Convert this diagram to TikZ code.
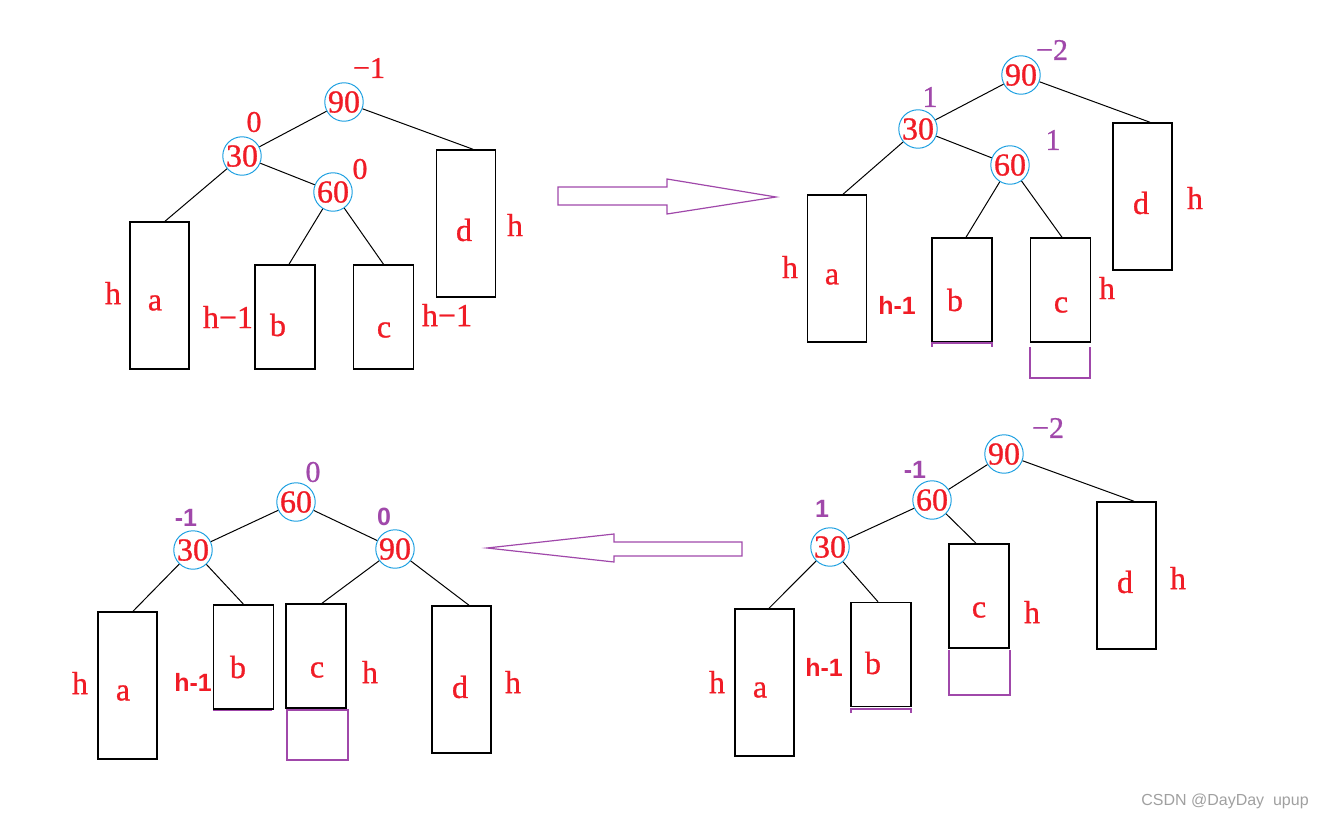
\documentclass[tikz,border=0pt]{standalone}
\usepackage{fontspec}
\setmainfont{Liberation Serif}
\setsansfont{Liberation Sans}
\newfontfamily\rserif{Liberation Serif}[FakeBold=0.9]
\definecolor{tred}{RGB}{240,28,38}
\definecolor{tpur}{RGB}{160,72,170}
\definecolor{cblue}{RGB}{30,160,225}
\definecolor{wgray}{RGB}{160,160,160}
\begin{document}
\begin{tikzpicture}[x=0.5pt,y=-0.5pt,
  num/.style={circle,draw=cblue,line width=0.5pt,minimum size=18.5pt,inner sep=0pt,text=tred,font=\rserif\fontsize{16}{16}\selectfont},
  lbl/.style={inner sep=0pt,text=tred,font=\rserif\fontsize{16}{16}\selectfont},
  rbal/.style={inner sep=0pt,text=tred,font=\rserif\fontsize{15}{15}\selectfont},
  bal/.style={inner sep=0pt,text=tpur,font=\rserif\fontsize{15}{15}\selectfont},
  bals/.style={inner sep=0pt,text=tpur,font=\sffamily\bfseries\fontsize{12.5}{12.5}\selectfont},
  hs/.style={inner sep=0pt,text=tred,font=\sffamily\bfseries\fontsize{12.5}{12.5}\selectfont},
  tall/.style={draw,line width=0.75pt,minimum width=29.5pt,minimum height=73.5pt,inner sep=0pt},
  short/.style={draw,line width=0.75pt,minimum width=30pt,minimum height=52pt,inner sep=0pt},
  edge/.style={line width=0.5pt},
  pur/.style={draw=tpur,line width=0.6pt},
  bigarrow/.style={draw=tpur,line width=0.6pt,line join=miter}
]
\useasboundingbox (0,0) rectangle (1328,819);

%% ---------------- Panel 1 (top left) ----------------
\node[num] (n90a) at (344,102) {90};
\node[num] (n30a) at (242,156) {30};
\node[num] (n60a) at (333,192) {60};
\node[rbal] (ba90a) at (369,68) {−1};
\node[rbal] (ba30a) at (254,122) {0};
\node[rbal] (ba60a) at (360,169) {0};
\node[tall]  (a1) at (159.5,295.5) {};
\node[short] (b1) at (285,317) {};
\node[short] (c1) at (383.5,317) {};
\node[tall]  (d1) at (466,223.5) {};
\node[lbl] (ta1) at (155,303) {a};
\node[lbl] (tb1) at (278,325) {b};
\node[lbl] (tc1) at (384,330) {c};
\node[lbl] (td1) at (464,230) {d};
\node[lbl] (ha1) at (113,293) {h};
\node[lbl] (hb1) at (228,317) {h−1};
\node[lbl] (hc1) at (447,315) {h−1};
\node[lbl] (hd1) at (515,225) {h};
\draw[edge] (n90a) -- (n30a);
\draw[edge] (n90a) -- ([xshift=3.5pt]d1.north);
\draw[edge] (n30a) -- ([xshift=2.75pt]a1.north);
\draw[edge] (n30a) -- (n60a);
\draw[edge] (n60a) -- ([xshift=2pt]b1.north);
\draw[edge] (n60a) -- (c1.north);

%% ---------------- Panel 2 (top right) ----------------
\node[num] (n90b) at (1021,75) {90};
\node[num] (n30b) at (918,129) {30};
\node[num] (n60b) at (1010,165) {60};
\node[bal] (ba90b) at (1052,50) {−2};
\node[bal] (ba30b) at (930,97) {1};
\node[bal] (ba60b) at (1053,140) {1};
\node[tall]  (a2) at (837,268.5) {};
\node[short] (b2) at (962,290) {};
\node[short] (c2) at (1060.5,290) {};
\node[tall]  (d2) at (1142.5,196.5) {};
\draw[pur] (932,347) -- (932,343) -- (992,343) -- (992,347);
\draw[pur] (1030,347) -- (1030,378) -- (1090,378) -- (1090,347);
\node[lbl] (ta2) at (832,277) {a};
\node[lbl] (tb2) at (955,300) {b};
\node[lbl] (tc2) at (1061,305) {c};
\node[lbl] (td2) at (1141,203) {d};
\node[lbl] (ha2) at (790,267) {h};
\node[hs]  (hb2) at (897,305) {h-1};
\node[lbl] (hc2) at (1107,288) {h};
\node[lbl] (hd2) at (1195,198) {h};
\draw[edge] (n90b) -- (n30b);
\draw[edge] (n90b) -- ([xshift=3.75pt]d2.north);
\draw[edge] (n30b) -- ([xshift=3pt]a2.north);
\draw[edge] (n30b) -- (n60b);
\draw[edge] (n60b) -- ([xshift=2pt]b2.north);
\draw[edge] (n60b) -- ([xshift=0.75pt]c2.north);

%% ---------------- Panel 3 (bottom left) ----------------
\node[num] (n60c) at (296,502) {60};
\node[num] (n30c) at (193,550) {30};
\node[num] (n90c) at (395,549) {90};
\node[bal]  (ba60c) at (313,472) {0};
\node[bals] (ba30c) at (186,518) {-1};
\node[bals] (ba90c) at (384,517) {0};
\node[tall]  (a3) at (127.5,685.5) {};
\node[short] (b3) at (243.5,657) {};
\node[short] (c3) at (316,656) {};
\node[tall]  (d3) at (461.5,679.5) {};
\draw[pur] (287,710) rectangle (348,760);
\draw[pur] (213,710.5) -- (272,710.5);
\node[lbl] (ta3) at (123,693) {a};
\node[lbl] (tb3) at (238,667) {b};
\node[lbl] (tc3) at (317,670) {c};
\node[lbl] (td3) at (460,687) {d};
\node[lbl] (ha3) at (80,683) {h};
\node[hs]  (hb3) at (193,682) {h-1};
\node[lbl] (hc3) at (370,672) {h};
\node[lbl] (hd3) at (513,682) {h};
\draw[edge] (n60c) -- (n30c);
\draw[edge] (n60c) -- (n90c);
\draw[edge] (n30c) -- ([xshift=2.75pt]a3.north);
\draw[edge] (n30c) -- (b3.north);
\draw[edge] (n90c) -- ([xshift=3pt]c3.north);
\draw[edge] (n90c) -- ([xshift=3.75pt]d3.north);

%% ---------------- Panel 4 (bottom right) ----------------
\node[num] (n90d) at (1004,454) {90};
\node[num] (n60d) at (932,500) {60};
\node[num] (n30d) at (830,547) {30};
\node[bal]  (ba90d) at (1048,428) {−2};
\node[bals] (ba60d) at (915,470) {-1};
\node[bals] (ba30d) at (822,509) {1};
\node[tall]  (a4) at (764.5,682.5) {};
\node[short] (b4) at (881,654.5) {};
\node[short] (c4) at (979,596) {};
\node[tall]  (d4) at (1126.5,575.5) {};
\draw[pur] (851,713) -- (851,709) -- (911,709) -- (911,713);
\draw[pur] (949,650) -- (949,695) -- (1010,695) -- (1010,650);
\node[lbl] (ta4) at (760,690) {a};
\node[lbl] (tb4) at (873,663) {b};
\node[lbl] (tc4) at (979,610) {c};
\node[lbl] (td4) at (1125,582) {d};
\node[lbl] (ha4) at (717,682) {h};
\node[hs]  (hb4) at (824,667) {h-1};
\node[lbl] (hc4) at (1032,612) {h};
\node[lbl] (hd4) at (1178,578) {h};
\draw[edge] (n90d) -- (n60d);
\draw[edge] (n90d) -- ([xshift=3.75pt]d4.north);
\draw[edge] (n60d) -- (n30d);
\draw[edge] (n60d) -- ([xshift=-1.5pt]c4.north);
\draw[edge] (n30d) -- ([xshift=2.25pt]a4.north);
\draw[edge] (n30d) -- ([xshift=-1.5pt]b4.north);

%% ---------------- Transition arrows ----------------
\draw[bigarrow] (558,187) -- (667,187) -- (667,179) -- (776,197) -- (667,214) -- (667,205) -- (558,205) -- cycle;
\draw[bigarrow] (742,542) -- (614,542) -- (614,534) -- (487,548) -- (614,562) -- (614,556) -- (742,556) -- cycle;

%% ---------------- Watermark ----------------
\node[inner sep=0pt,text=wgray,font=\sffamily\fontsize{8}{8}\selectfont] (wm) at (1225,801) {CSDN @DayDay\ \ upup};
\end{tikzpicture}
\end{document}
